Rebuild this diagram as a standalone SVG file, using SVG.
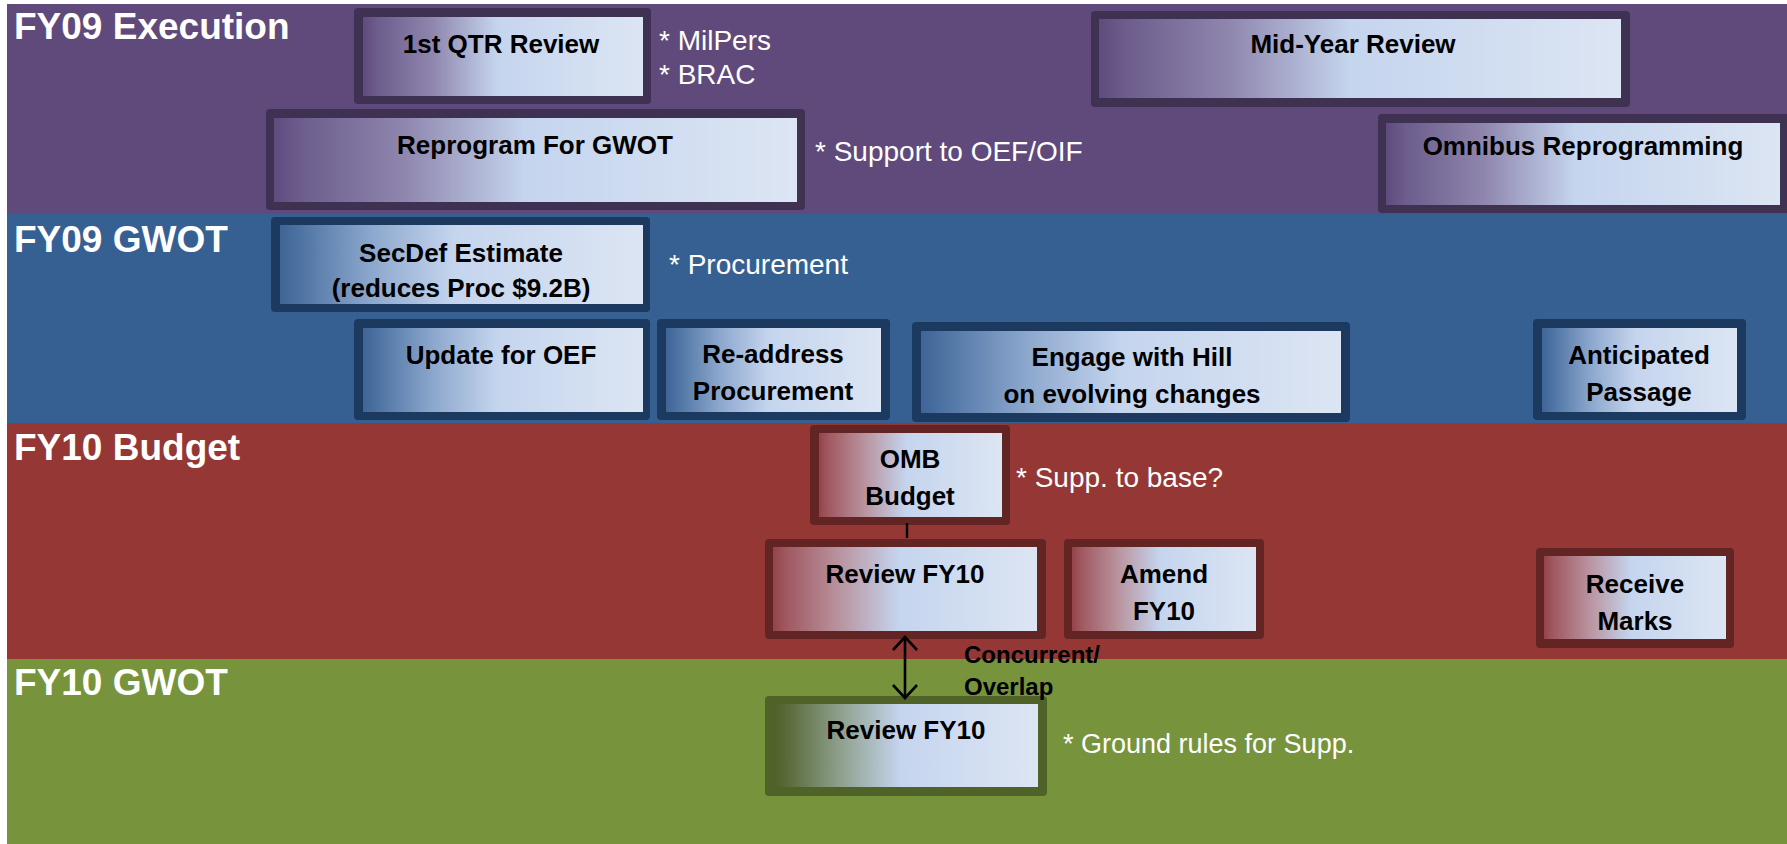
<svg xmlns="http://www.w3.org/2000/svg" width="1787" height="844" viewBox="0 0 1787 844">
<style>
.lane{font-family:"Liberation Sans",Arial,sans-serif;font-weight:bold;font-size:37px;fill:#fff}
.bt{font-family:"Liberation Sans",Arial,sans-serif;font-weight:bold;font-size:26px;fill:#000;text-anchor:middle}
.note{font-family:"Liberation Sans",Arial,sans-serif;font-size:28px;fill:#fff}
.cl{font-family:"Liberation Sans",Arial,sans-serif;font-weight:bold;font-size:24px;fill:#000}
.fp{fill:#3F3151}.fb{fill:#1C3A60}.fr{fill:#632523}.fg{fill:#4F6228}
</style>
<defs>
<linearGradient id="gP" x1="0" y1="0" x2="1" y2="0">
<stop offset="0" stop-color="#5F4B7E"/><stop offset="0.05" stop-color="#6C5D8C"/><stop offset="0.25" stop-color="#8F86AE"/><stop offset="0.48" stop-color="#C5D5EE"/><stop offset="1" stop-color="#DCE5F3"/>
</linearGradient>
<linearGradient id="gB" x1="0" y1="0" x2="1" y2="0">
<stop offset="0" stop-color="#3E6596"/><stop offset="0.05" stop-color="#4C72A2"/><stop offset="0.25" stop-color="#8CA7CD"/><stop offset="0.48" stop-color="#C5D5EE"/><stop offset="1" stop-color="#DCE5F3"/>
</linearGradient>
<linearGradient id="gR" x1="0" y1="0" x2="1" y2="0">
<stop offset="0" stop-color="#94434A"/><stop offset="0.05" stop-color="#A05860"/><stop offset="0.25" stop-color="#B9939F"/><stop offset="0.48" stop-color="#C5D5EE"/><stop offset="1" stop-color="#DCE5F3"/>
</linearGradient>
<linearGradient id="gG" x1="0" y1="0" x2="1" y2="0">
<stop offset="0" stop-color="#4E6228"/><stop offset="0.05" stop-color="#5A6C3A"/><stop offset="0.25" stop-color="#8FA08E"/><stop offset="0.48" stop-color="#C5D5EE"/><stop offset="1" stop-color="#DCE5F3"/>
</linearGradient>
<marker id="oa" viewBox="-2 -2 17 28" refX="13" refY="12" markerWidth="17" markerHeight="28" markerUnits="userSpaceOnUse" orient="auto-start-reverse">
<path d="M0,0 L13,12 L0,24" fill="none" stroke="#000" stroke-width="2.6"/>
</marker>
</defs>

<g id="lanes">
<rect x="7" y="4" width="1780" height="210" fill="#604A7B"/>
<rect x="7" y="214" width="1780" height="209" fill="#376092"/>
<rect x="7" y="423" width="1780" height="236" fill="#953735"/>
<rect x="7" y="659" width="1780" height="185" fill="#77933C"/>
<text class="lane" x="14" y="39">FY09 Execution</text>
<text class="lane" x="14" y="252">FY09 GWOT</text>
<text class="lane" x="14" y="460">FY10 Budget</text>
<text class="lane" x="14" y="695">FY10 GWOT</text>
</g>

<g id="n-1stqtr">
<rect class="fp" x="354" y="8" width="297" height="96" rx="4"/>
<rect x="363" y="17" width="280" height="79" fill="url(#gP)"/>
<text class="bt" x="501" y="53">1st QTR Review</text>
</g>
<text class="note" x="659" y="50">* MilPers</text>
<text class="note" x="659" y="84">* BRAC</text>

<g id="n-midyear">
<rect class="fp" x="1091" y="11" width="539" height="96" rx="4"/>
<rect x="1099" y="19" width="522" height="79" fill="url(#gP)"/>
<text class="bt" x="1353" y="53">Mid-Year Review</text>
</g>

<g id="n-reprogram">
<rect class="fp" x="266" y="109" width="539" height="101" rx="4"/>
<rect x="274" y="118" width="523" height="84" fill="url(#gP)"/>
<text class="bt" x="535" y="154">Reprogram For GWOT</text>
</g>
<text class="note" x="815" y="161">* Support to OEF/OIF</text>

<g id="n-omnibus">
<rect class="fp" x="1378" y="114" width="415" height="99" rx="4"/>
<rect x="1386" y="123" width="394" height="82" fill="url(#gP)"/>
<text class="bt" x="1583" y="155">Omnibus Reprogramming</text>
</g>

<g id="n-secdef">
<rect class="fb" x="271" y="217" width="379" height="95" rx="4"/>
<rect x="280" y="225" width="363" height="79" fill="url(#gB)"/>
<text class="bt" x="461" y="262">SecDef Estimate</text>
<text class="bt" x="461" y="297">(reduces Proc $9.2B)</text>
</g>
<text class="note" x="669" y="274">* Procurement</text>

<g id="n-updateoef">
<rect class="fb" x="354" y="319" width="296" height="101" rx="4"/>
<rect x="363" y="328" width="280" height="84" fill="url(#gB)"/>
<text class="bt" x="501" y="364">Update for OEF</text>
</g>

<g id="n-readdress">
<rect class="fb" x="657" y="319" width="233" height="101" rx="4"/>
<rect x="666" y="328" width="215" height="84" fill="url(#gB)"/>
<text class="bt" x="773" y="363">Re-address</text>
<text class="bt" x="773" y="400">Procurement</text>
</g>

<g id="n-engage">
<rect class="fb" x="912" y="322" width="438" height="100" rx="4"/>
<rect x="921" y="331" width="420" height="82" fill="url(#gB)"/>
<text class="bt" x="1132" y="366">Engage with Hill</text>
<text class="bt" x="1132" y="403">on evolving changes</text>
</g>

<g id="n-anticipated">
<rect class="fb" x="1533" y="319" width="213" height="101" rx="4"/>
<rect x="1542" y="328" width="195" height="84" fill="url(#gB)"/>
<text class="bt" x="1639" y="364">Anticipated</text>
<text class="bt" x="1639" y="401">Passage</text>
</g>

<g id="n-omb">
<rect class="fr" x="810" y="425" width="200" height="100" rx="4"/>
<rect x="819" y="433" width="183" height="84" fill="url(#gR)"/>
<text class="bt" x="910" y="468">OMB</text>
<text class="bt" x="910" y="505">Budget</text>
</g>
<text class="note" x="1016" y="487">* Supp. to base?</text>

<g id="n-reviewfy10-budget">
<rect class="fr" x="765" y="539" width="281" height="100" rx="4"/>
<rect x="773" y="547" width="264" height="84" fill="url(#gR)"/>
<text class="bt" x="905" y="583">Review FY10</text>
</g>

<g id="n-amend">
<rect class="fr" x="1064" y="539" width="200" height="100" rx="4"/>
<rect x="1072" y="547" width="184" height="84" fill="url(#gR)"/>
<text class="bt" x="1164" y="583">Amend</text>
<text class="bt" x="1164" y="620">FY10</text>
</g>

<g id="n-receive">
<rect class="fr" x="1536" y="548" width="198" height="100" rx="4"/>
<rect x="1544" y="556" width="182" height="83" fill="url(#gR)"/>
<text class="bt" x="1635" y="593">Receive</text>
<text class="bt" x="1635" y="630">Marks</text>
</g>

<g id="n-reviewfy10-gwot">
<rect class="fg" x="765" y="696" width="282" height="100" rx="4"/>
<rect x="775" y="704" width="263" height="83" fill="url(#gG)"/>
<text class="bt" x="906" y="739">Review FY10</text>
</g>
<text class="note" x="1063" y="753" style="font-size:27px">* Ground rules for Supp.</text>

<g id="connectors">
<line x1="907" y1="523" x2="907" y2="538" stroke="#000" stroke-width="2.4"/>
<line x1="905" y1="637" x2="905" y2="698" stroke="#000" stroke-width="2.6" marker-start="url(#oa)" marker-end="url(#oa)"/>
<text class="cl" x="964" y="663">Concurrent/</text>
<text class="cl" x="964" y="695">Overlap</text>
</g>
</svg>
